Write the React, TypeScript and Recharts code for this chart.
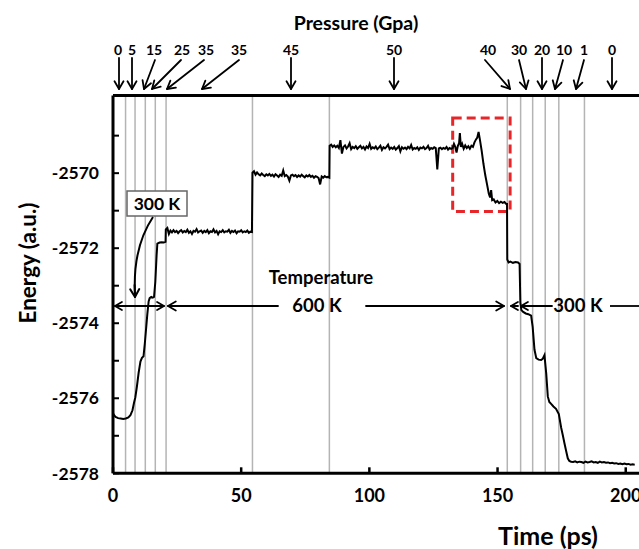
import React from 'react';
import { LineChart, Line, XAxis, YAxis, ReferenceLine, ReferenceArea } from 'recharts';

// ---------- data ----------
// heating ramp, 0 -> 20.5 ps
const heatTimes = [0, 0.5, 1, 2, 3, 4, 5, 6, 6.8, 7.6, 8.2, 8.7, 9.3, 10, 10.7, 11.3, 11.9, 12.4, 12.9, 13.4, 13.9, 14.3, 14.9, 15.5, 16.0, 16.5, 17.0, 17.3, 18.2, 19.0, 19.8, 20.5];
const heatEnergy = [-2576.40, -2576.46, -2576.50, -2576.53, -2576.54, -2576.55, -2576.54, -2576.51, -2576.45, -2576.32, -2576.12, -2575.98, -2575.70, -2575.32, -2575.02, -2574.92, -2574.88, -2574.55, -2574.15, -2573.75, -2573.42, -2573.33, -2573.30, -2573.32, -2573.30, -2572.90, -2572.20, -2571.88, -2571.85, -2571.84, -2571.85, -2571.83];

// 35 GPa plateau at 600 K, sampled every 0.6 ps from 20.6 ps
const p35Start = 20.6;
const p35Step = 0.6;
const p35Energy = [
  -2571.50, -2571.46, -2571.62, -2571.53, -2571.58, -2571.52, -2571.57, -2571.54, -2571.60, -2571.55,
  -2571.52, -2571.58, -2571.54, -2571.57, -2571.51, -2571.59, -2571.55, -2571.62, -2571.54, -2571.56,
  -2571.49, -2571.58, -2571.55, -2571.53, -2571.59, -2571.54, -2571.57, -2571.52, -2571.60, -2571.55,
  -2571.57, -2571.50, -2571.58, -2571.54, -2571.63, -2571.55, -2571.57, -2571.52, -2571.58, -2571.55,
  -2571.56, -2571.51, -2571.59, -2571.54, -2571.57, -2571.53, -2571.60, -2571.55, -2571.56, -2571.52,
  -2571.58, -2571.55, -2571.57, -2571.53, -2571.59, -2571.56, -2571.57,
];

// 45 GPa plateau, every 0.6 ps from 54.4 ps
const p45Start = 54.4;
const p45Step = 0.6;
const p45Energy = [
  -2569.99, -2569.95, -2570.04, -2569.98, -2570.03, -2570.06, -2570.01, -2570.05, -2570.08, -2570.03,
  -2570.06, -2570.02, -2570.07, -2570.04, -2570.09, -2570.03, -2570.06, -2570.10, -2570.04, -2570.07,
  -2569.93, -2570.08, -2570.05, -2570.09, -2570.20, -2570.06, -2570.04, -2570.08, -2570.05, -2570.10,
  -2570.06, -2570.09, -2570.04, -2570.08, -2570.11, -2570.06, -2570.09, -2570.05, -2570.10, -2570.07,
  -2570.12, -2570.08, -2570.10, -2570.13, -2570.30, -2570.09, -2570.12, -2570.08, -2570.11, -2570.10,
  -2570.12,
];

// 50 GPa plateau, every 0.6 ps from 84.5 ps
const p50Start = 84.5;
const p50Step = 0.6;
const p50Energy = [
  -2569.27, -2569.24, -2569.30, -2569.26, -2569.31, -2569.27, -2569.33, -2569.12, -2569.48, -2569.30,
  -2569.26, -2569.34, -2569.29, -2569.20, -2569.36, -2569.30, -2569.33, -2569.28, -2569.35, -2569.31,
  -2569.27, -2569.34, -2569.30, -2569.37, -2569.29, -2569.33, -2569.22, -2569.35, -2569.31, -2569.34,
  -2569.29, -2569.36, -2569.32, -2569.27, -2569.38, -2569.31, -2569.34, -2569.30, -2569.24, -2569.36,
  -2569.32, -2569.35, -2569.30, -2569.37, -2569.33, -2569.28, -2569.42, -2569.31, -2569.35, -2569.32,
  -2569.36, -2569.30, -2569.34, -2569.25, -2569.37, -2569.33, -2569.35, -2569.31, -2569.38, -2569.32,
  -2569.34, -2569.30, -2569.36, -2569.33, -2569.27, -2569.37, -2569.33, -2569.35, -2569.31, -2569.33,
  -2569.90, -2569.34, -2569.32, -2569.36, -2569.33, -2569.35, -2569.30, -2569.37, -2569.33, -2569.35,
];

// transition inside the red box
const transTimes = [132.5, 133.0, 133.5, 134.0, 134.5, 135.0, 135.3, 135.7, 136.2, 136.8, 137.4, 138.0, 138.6, 139.2, 139.8, 140.4, 141.0, 141.6, 142.1, 142.6, 143.1, 143.8, 144.5, 145.2, 145.9, 146.6, 147.1, 147.5, 147.9, 148.5, 149.2, 149.9, 150.6, 151.3, 152.0, 152.7, 153.4];
const transEnergy = [-2569.33, -2569.22, -2569.30, -2569.45, -2569.28, -2569.20, -2568.93, -2569.30, -2569.22, -2569.35, -2569.26, -2569.33, -2569.28, -2569.35, -2569.27, -2569.30, -2569.18, -2569.10, -2569.05, -2568.90, -2569.10, -2569.40, -2569.75, -2570.05, -2570.30, -2570.55, -2570.65, -2570.45, -2570.72, -2570.70, -2570.78, -2570.74, -2570.80, -2570.76, -2570.79, -2570.77, -2570.82];

// cooling / decompression steps at 300 K
const coolTimes = [153.7, 153.8, 154.3, 155, 156, 157, 158, 158.6, 158.9, 159.3, 160, 161, 162, 163.1, 163.7, 164.4, 165.1, 166, 167, 167.6, 168.3, 169.0, 169.6, 170.2, 170.9, 171.8, 172.8, 173.9, 174.8, 175.5, 176.1, 176.8, 177.4, 178.0];
const coolEnergy = [-2570.82, -2572.30, -2572.38, -2572.36, -2572.39, -2572.37, -2572.38, -2572.42, -2573.45, -2573.65, -2573.70, -2573.74, -2573.76, -2573.80, -2574.10, -2574.70, -2574.93, -2574.97, -2574.98, -2574.95, -2574.85, -2575.35, -2575.95, -2576.10, -2576.15, -2576.22, -2576.28, -2576.42, -2576.78, -2577.00, -2577.20, -2577.42, -2577.60, -2577.67];

// final 0 GPa plateau, every 0.8 ps from 178.7 ps
const finalStart = 178.7;
const finalStep = 0.8;
const finalEnergy = [
  -2577.69, -2577.70, -2577.68, -2577.71, -2577.69, -2577.70, -2577.72, -2577.69, -2577.71, -2577.70,
  -2577.68, -2577.71, -2577.70, -2577.72, -2577.69, -2577.71, -2577.70, -2577.72, -2577.71, -2577.73,
  -2577.72, -2577.74, -2577.73, -2577.75, -2577.74, -2577.76, -2577.74, -2577.76, -2577.75, -2577.77,
  -2577.76, -2577.77,
];

// times at which the pressure was changed (grey lines)
const stepTimes = [4.9, 8.6, 12.6, 16.5, 20.7, 54.4, 84.4, 153.8, 159.0, 163.7, 168.6, 173.9, 183.9];

const xTicks = [0, 50, 100, 150, 200];
const topTicks = [50, 100, 150, 200];
const yTicks = [-2578, -2577, -2576, -2575, -2574, -2573, -2572, -2571, -2570, -2569];
const yLabelled = [-2578, -2576, -2574, -2572, -2570];

const pressureLabels = ['0', '5', '15', '25', '35', '35', '45', '50', '40', '30', '20', '10', '1', '0'];

// ---------- build series ----------
type Pt = { t: number; e: number };
function buildSeries(): Pt[] {
  const pts: Pt[] = [];
  heatTimes.forEach((t, i) => pts.push({ t, e: heatEnergy[i] }));
  p35Energy.forEach((e, i) => pts.push({ t: +(p35Start + i * p35Step).toFixed(2), e }));
  p45Energy.forEach((e, i) => pts.push({ t: +(p45Start + i * p45Step).toFixed(2), e }));
  p50Energy.forEach((e, i) => pts.push({ t: +(p50Start + i * p50Step).toFixed(2), e }));
  transTimes.forEach((t, i) => pts.push({ t, e: transEnergy[i] }));
  coolTimes.forEach((t, i) => pts.push({ t, e: coolEnergy[i] }));
  finalEnergy.forEach((e, i) => pts.push({ t: +(finalStart + i * finalStep).toFixed(2), e }));
  return pts;
}
const series = buildSeries();

// ---------- annotation layout (pixels) ----------
const FONT = 'Lato, "Open Sans", sans-serif';
const pressureLabelX = [118, 132, 154, 182, 206, 239, 291, 394, 488, 519, 542, 564, 584, 612];
const pressureArrows: [number, number, number, number][] = [
  [119, 58, 119, 89],
  [132, 58, 132, 89],
  [155, 60, 144, 89],
  [181, 60, 152, 89],
  [204, 60, 167, 89],
  [239, 60, 202, 89],
  [291, 58, 291, 89],
  [394, 58, 394, 89],
  [485, 60, 510, 89],
  [519, 60, 526, 89],
  [542, 58, 542, 89],
  [563, 60, 555, 89],
  [584, 60, 576, 89],
  [612, 58, 612, 89],
];

function Arrow({ x1, y1, x2, y2, head = 8, sw = 2 }: { x1: number; y1: number; x2: number; y2: number; head?: number; sw?: number }) {
  const a = Math.atan2(y2 - y1, x2 - x1);
  const s = Math.PI / 6;
  const hx1 = x2 - head * Math.cos(a - s);
  const hy1 = y2 - head * Math.sin(a - s);
  const hx2 = x2 - head * Math.cos(a + s);
  const hy2 = y2 - head * Math.sin(a + s);
  return (
    <g stroke="#000" strokeWidth={sw} fill="none" strokeLinecap="round" strokeLinejoin="round">
      <line x1={x1} y1={y1} x2={x2} y2={y2} />
      <polyline points={`${hx1},${hy1} ${x2},${y2} ${hx2},${hy2}`} />
    </g>
  );
}

function Overlay() {
  const rowY = 306;
  return (
    <svg width={639} height={549} style={{ position: 'absolute', left: 0, top: 0, pointerEvents: 'none' }}>
      <text x={356} y={30} textAnchor="middle" fontFamily={FONT} fontWeight={700} fontSize={19.5} fill="#000">Pressure (Gpa)</text>
      {pressureLabels.map((p, i) => (
        <text key={'pl' + i} x={pressureLabelX[i]} y={55} textAnchor="middle" fontFamily={FONT} fontWeight={700} fontSize={14} fill="#000">{p}</text>
      ))}
      {pressureArrows.map((a, i) => (
        <Arrow key={'pa' + i} x1={a[0]} y1={a[1]} x2={a[2]} y2={a[3]} head={9} sw={1.8} />
      ))}

      {/* 300 K box with curved arrow */}
      <rect x={127} y={191} width={60} height={25} fill="#fff" stroke="#666" strokeWidth={1.5} />
      <text x={157} y={210} textAnchor="middle" fontFamily={FONT} fontWeight={700} fontSize={17.5} fill="#000">300 K</text>
      <path d="M153,217 C143,232 133,256 135,294" stroke="#000" strokeWidth={2} fill="none" />
      <Arrow x1={134.6} y1={285} x2={135} y2={297} head={9} sw={2} />

      {/* temperature row */}
      <text x={321} y={284} textAnchor="middle" fontFamily={FONT} fontWeight={700} fontSize={18.5} fill="#000">Temperature</text>
      <Arrow x1={140} y1={rowY} x2={115} y2={rowY} head={8} sw={1.8} />
      <Arrow x1={140} y1={rowY} x2={164} y2={rowY} head={8} sw={1.8} />
      <Arrow x1={278} y1={rowY} x2={168} y2={rowY} head={9} sw={1.8} />
      <text x={317} y={312} textAnchor="middle" fontFamily={FONT} fontWeight={700} fontSize={18.5} fill="#000">600 K</text>
      <Arrow x1={366} y1={rowY} x2={504} y2={rowY} head={9} sw={1.8} />
      <Arrow x1={518} y1={rowY} x2={511} y2={rowY} head={8} sw={1.8} />
      <Arrow x1={552} y1={rowY} x2={521} y2={rowY} head={8} sw={1.8} />
      <text x={578} y={312} textAnchor="middle" fontFamily={FONT} fontWeight={700} fontSize={18.5} fill="#000">300 K</text>
      <line x1={610} y1={rowY} x2={640} y2={rowY} stroke="#000" strokeWidth={1.8} />

      {/* axis titles */}
      <text x={0} y={0} transform="translate(27,263) rotate(-90)" textAnchor="middle" dominantBaseline="central" fontFamily={FONT} fontWeight={700} fontSize={22.5} fill="#000">Energy (a.u.)</text>
      <text x={548} y={545} textAnchor="middle" fontFamily={FONT} fontWeight={700} fontSize={25} fill="#000">Time (ps)</text>
    </svg>
  );
}

export default function App() {
  const tickStyle = { fontFamily: FONT, fontWeight: 700, fontSize: 17.5, fill: '#000' };
  return (
    <div style={{ position: 'absolute', left: 0, top: 0, width: 639, height: 549, overflow: 'hidden', background: '#fff' }}>
      <LineChart
        width={700}
        height={549}
        data={series}
        margin={{ top: 65.5, right: 23, bottom: 25.7, left: 0 }}
      >
        <XAxis
          dataKey="t"
          type="number"
          domain={[0, 220]}
          allowDataOverflow
          ticks={xTicks}
          height={50}
          tickSize={-6}
          tickMargin={22}
          axisLine={{ stroke: '#000', strokeWidth: 3 }}
          tickLine={{ stroke: '#000', strokeWidth: 2.5 }}
          tick={{ ...tickStyle, fontSize: 18 }}
        />
        <XAxis
          xAxisId="top"
          orientation="top"
          dataKey="t"
          type="number"
          domain={[0, 220]}
          allowDataOverflow
          ticks={topTicks}
          height={30}
          tickSize={-6}
          tick={false}
          axisLine={{ stroke: '#000', strokeWidth: 3 }}
          tickLine={{ stroke: '#000', strokeWidth: 2.5 }}
        />
        <YAxis
          type="number"
          domain={[-2578, -2567.93]}
          allowDataOverflow
          ticks={yTicks}
          width={113}
          tickSize={-6}
          tickMargin={20}
          axisLine={{ stroke: '#000', strokeWidth: 3 }}
          tickLine={{ stroke: '#000', strokeWidth: 2 }}
          tick={tickStyle}
          tickFormatter={(v: number) => (yLabelled.includes(v) ? String(v) : '')}
        />
        {stepTimes.map((t) => (
          <ReferenceLine key={'s' + t} x={t} stroke="#b4b4b4" strokeWidth={1.5} />
        ))}
        <ReferenceArea
          x1={132.5}
          x2={154.9}
          y1={-2571.02}
          y2={-2568.53}
          fill="none"
          fillOpacity={0}
          stroke="#e8262a"
          strokeWidth={3}
          strokeDasharray="9 5"
        />
        <Line
          type="linear"
          dataKey="e"
          stroke="#000"
          strokeWidth={2}
          dot={false}
          isAnimationActive={false}
        />
      </LineChart>
      <Overlay />
    </div>
  );
}
